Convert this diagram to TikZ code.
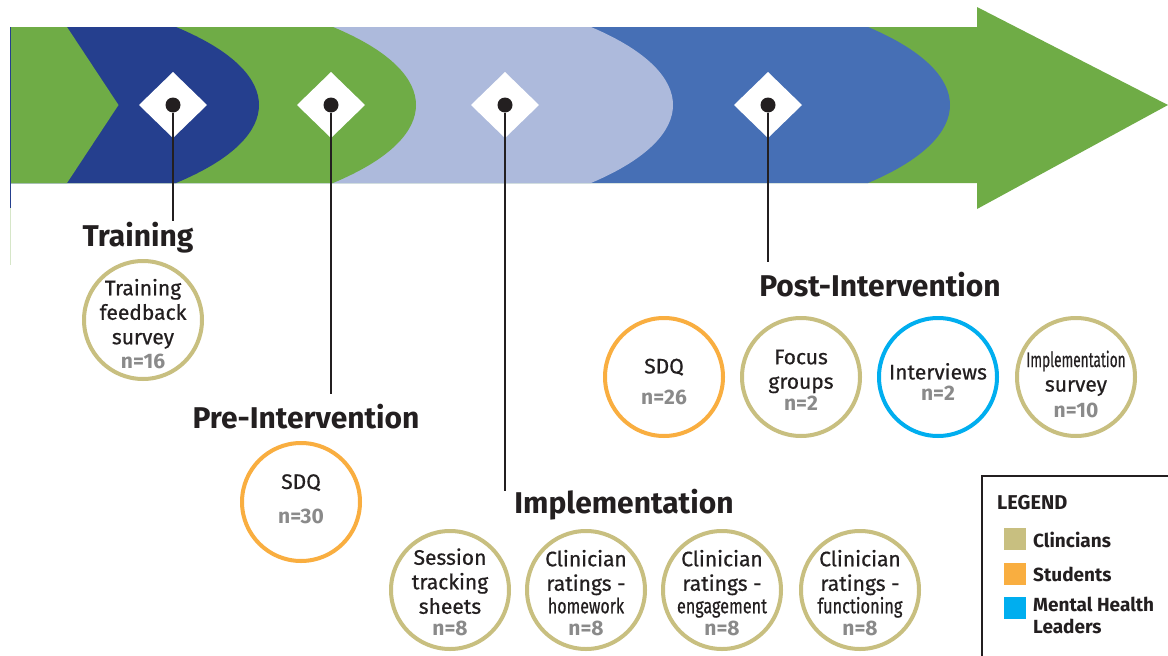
\documentclass[tikz,border=0pt]{standalone}
\usepackage{fontspec}
\setmainfont{Fira Sans}
\newfontfamily\circfont[FakeBold=0.6]{Fira Sans}
\usepackage{graphicx}
\definecolor{bgreen}{HTML}{6FAC46}
\definecolor{dblue}{HTML}{253F8E}
\definecolor{lblue}{HTML}{ADBADC}
\definecolor{mblue}{HTML}{466FB5}
\definecolor{olive}{HTML}{C8BF80}
\definecolor{orng}{HTML}{F9AE40}
\definecolor{cyanb}{HTML}{00AEEF}
\definecolor{ink}{HTML}{231F20}
\definecolor{ngray}{HTML}{8A8A8A}
\definecolor{pgreen}{HTML}{D6E6C8}
\newcommand{\nval}[1]{\textcolor{ngray}{\normalfont\fontsize{21}{25}\selectfont\bfseries #1}}
\begin{document}
\begin{tikzpicture}[x=1pt,y=-1pt,
  dot/.style={circle,fill=ink,inner sep=0pt,minimum size=15pt},
  stem/.style={draw=ink,line width=1.8pt},
  phase/.style={font=\fontsize{30}{34}\selectfont\bfseries,text=ink,inner sep=0pt},
  meas/.style={circle,draw=#1,line width=4pt,minimum size=118pt,inner sep=0pt},
  mtext/.style={align=center,inner sep=0pt,font=\circfont\fontsize{21}{24.5}\selectfont,text=ink},
  swatch/.style={fill=#1,minimum size=22pt,inner sep=0pt},
  legtext/.style={font=\fontsize{19}{22}\selectfont\bfseries,text=ink,inner sep=0pt,anchor=west,align=left}
]
\useasboundingbox (0,0) rectangle (1168,656);
\fill[white] (0,0) rectangle (1168,656);
% band and arrow
\fill[bgreen] (10,27) -- (977,27) -- (977,7) -- (1168,105) -- (977,209) -- (977,183) -- (10,183) -- cycle;
\fill[mblue] (10,27) -- (868,27) .. controls (927,52) and (950,80) .. (950,105)
  .. controls (950,130) and (927,158) .. (868,183) -- (10,183) -- cycle;
\fill[lblue] (10,27) -- (591,27) .. controls (650,52) and (673,80) .. (673,105)
  .. controls (673,130) and (650,158) .. (591,183) -- (10,183) -- cycle;
\fill[bgreen] (10,27) -- (333,27) .. controls (393,52) and (416,80) .. (416,105)
  .. controls (416,130) and (393,158) .. (333,183) -- (10,183) -- cycle;
\fill[dblue] (10,27) -- (176,27) .. controls (236,52) and (259,80) .. (259,105)
  .. controls (259,130) and (236,158) .. (176,183) -- (10,183) -- cycle;
\fill[bgreen] (10,27) -- (67,27) -- (118.5,105) -- (67,183) -- (10,183) -- cycle;
\draw[dblue,line width=1pt] (10,27) -- (10,208);
\draw[pgreen,line width=1pt] (10,208) -- (10,265);
% diamonds
\foreach \x in {173,331,505,768}{
  \fill[white] (\x,72) -- (\x+34,105) -- (\x,138) -- (\x-34,105) -- cycle;
}
% dots
\node[dot] (d1) at (173,105) {};
\node[dot] (d2) at (331,105) {};
\node[dot] (d3) at (505,105) {};
\node[dot] (d4) at (768,105) {};
\coordinate (e1) at (173,221);
\coordinate (e2) at (331,394);
\coordinate (e3) at (505,491);
\coordinate (e4) at (768,262);
\draw[stem] (d1) -- (e1);
\draw[stem] (d2) -- (e2);
\draw[stem] (d3) -- (e3);
\draw[stem] (d4) -- (e4);
% phase labels
\node[phase] (training) at (138,238) {Training};
\node[phase] (pre) at (306,417) {Pre-Intervention};
\node[phase] (impl) at (624,505) {Implementation};
\node[phase] (post) at (880,285) {Post-Intervention};
% training
\node[meas=olive,label={[mtext,yshift=-4pt]center:{Training\\feedback\\survey\\[0pt]\nval{n=16}}}] (tfs) at (143,320) {};
% pre
\node[meas=orng,label={[mtext,yshift=3pt]center:{SDQ\\[10pt]\nval{n=30}}}] (sdq1) at (301,502) {};
% implementation
\node[meas=olive,label={[mtext,yshift=-2pt]center:{Session\\tracking\\sheets\\[-3pt]\nval{n=8}}}] (sts) at (450,590) {};
\node[meas=olive,label={[mtext,yshift=-3pt]center:{Clinician\\ratings -\\[-2pt]\scalebox{0.76}[1]{homework}\\[-2pt]\nval{n=8}}}] (crh) at (586,590) {};
\node[meas=olive,label={[mtext,yshift=-3pt]center:{Clinician\\ratings -\\[-2pt]\scalebox{0.77}[1]{engagement}\\[-2pt]\nval{n=8}}}] (cre) at (722,590) {};
\node[meas=olive,label={[mtext,yshift=-3pt]center:{Clinician\\ratings -\\[-2pt]\scalebox{0.78}[1]{functioning}\\[-2pt]\nval{n=8}}}] (crf) at (860,590) {};
% post
\node[meas=orng,label={[mtext,yshift=-5pt]center:{SDQ\\[7pt]\nval{n=26}}}] (sdq2) at (664,377) {};
\node[meas=olive,label={[mtext,yshift=-3pt]center:{Focus\\groups\\[-3pt]\nval{n=2}}}] (fg) at (801,377) {};
\node[meas=cyanb,label={[mtext,yshift=-5pt]center:{Interviews\\[-3pt]\nval{n=2}}}] (iv) at (938,377) {};
\node[meas=olive,label={[mtext,yshift=-7pt]center:{\scalebox{0.65}[1]{Implementation}\\survey\\[1pt]\nval{n=10}}}] (is) at (1076,377) {};
% legend
\draw[ink,line width=2pt] (1168,476) -- (982,476) -- (982,656);
\node[legtext,font=\fontsize{20}{22}\selectfont\bfseries] (leg) at (997,503) {LEGEND};
\node[swatch=olive] (s1) at (1015,539) {};
\node[swatch=orng] (s2) at (1015,574) {};
\node[swatch=cyanb] (s3) at (1015,608) {};
\node[legtext] (l1) at (1033,540) {Clincians};
\node[legtext] (l2) at (1033,574) {Students};
\node[legtext,anchor=north west] (l3) at (1033,597) {Mental Health\\Leaders};
\end{tikzpicture}
\end{document}
